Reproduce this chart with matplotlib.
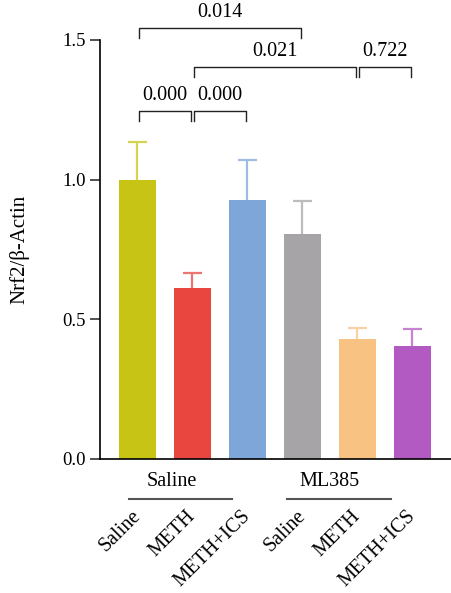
import matplotlib.pyplot as plt
import matplotlib.colors as mcolors

plt.rcParams['font.family'] = ['Liberation Serif', 'DejaVu Serif']

# Nrf2 / beta-actin ratio per group
groups = ["Saline", "METH", "METH+ICS", "Saline", "METH", "METH+ICS"]
means = [1.000, 0.612, 0.927, 0.806, 0.430, 0.405]
sems = [0.135, 0.055, 0.145, 0.119, 0.038, 0.059]
colors = ["#C8C415", "#E8463F", "#7EA6D8", "#A6A4A7", "#F8C283", "#B25AC2"]
treatments = ["Saline", "ML385"]

# comparisons: (bar a, bar b, bracket height, p value)
comparisons = [(0, 3, 1.543, "0.014"),
               (1, 4, 1.403, "0.021"),
               (4, 5, 1.403, "0.722"),
               (0, 1, 1.246, "0.000"),
               (1, 2, 1.246, "0.000")]


def lighten(c, amt=0.25):
    r, g, b = mcolors.to_rgb(c)
    return (r + (1 - r) * amt, g + (1 - g) * amt, b + (1 - b) * amt)


fig = plt.figure(figsize=(4.51, 5.93), dpi=100)
ax = fig.add_axes([0.2217, 0.226, 0.7783, 0.7066])

x = list(range(len(means)))
ax.bar(x, means, width=0.67, color=colors, zorder=2)
# upper error bars only
for i in x:
    ec = lighten(colors[i])
    top = means[i] + sems[i]
    ax.vlines(i, means[i], top, color=ec, lw=1.6, zorder=1)
    ax.hlines(top, i - 0.17, i + 0.17, color=ec, lw=1.6, zorder=1)

ax.set_xlim(-0.682, 5.70)
ax.set_ylim(0, 1.5)
ax.set_yticks([0, 0.5, 1.0, 1.5])
ax.set_yticklabels(["0.0", "0.5", "1.0", "1.5"])
ax.set_xticks([])
ax.spines['top'].set_visible(False)
ax.spines['right'].set_visible(False)
for s in ['left', 'bottom']:
    ax.spines[s].set_linewidth(1.2)
ax.tick_params(axis='y', length=7, width=1.2, labelsize=13.5, pad=3, colors='#333333', labelcolor='black')
ax.set_ylabel("Nrf2/β-Actin", fontsize=15, labelpad=24)

# significance brackets
tip = 0.036
for a, b, h, p in comparisons:
    xa, xb = a + 0.03, b - 0.03
    ax.plot([xa, xa, xb, xb], [h - tip, h, h, h - tip], color='#222222', lw=1.0, clip_on=False)
    ax.text((a + b) / 2, h + 0.02, p, ha='center', va='bottom', fontsize=14.5)

# treatment labels with underline
label_x = [0.63, 3.5]
line_x = [(-0.155, 1.72), (2.72, 4.61)]
for k, name in enumerate(treatments):
    ax.text(label_x[k], -0.045, name, ha='center', va='top', fontsize=14.5, clip_on=False)
    ax.plot(line_x[k], [-0.143, -0.143], color='#555555', lw=1.5, clip_on=False)

# rotated group labels
for i, g in enumerate(groups):
    ax.text(i - 0.12, -0.17, g, rotation=45, ha='right', va='top', fontsize=14.5,
            rotation_mode='anchor', clip_on=False)

fig.savefig("out.png", dpi=100)
